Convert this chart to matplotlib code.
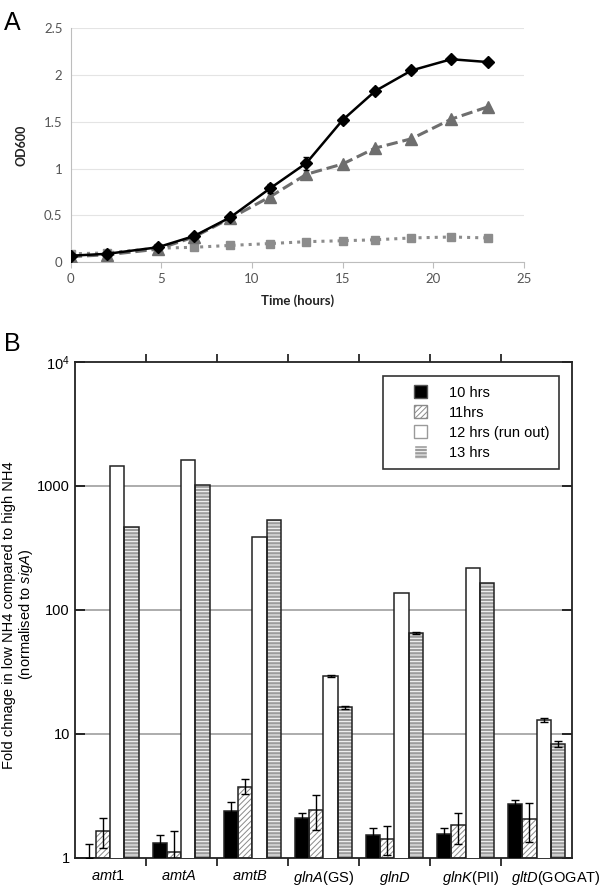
import numpy as np
import matplotlib
matplotlib.use("Agg")
import matplotlib.pyplot as plt
from matplotlib.patches import Patch, Rectangle
from matplotlib.legend_handler import HandlerPatch
from matplotlib.ticker import FixedLocator, FixedFormatter
from matplotlib.transforms import blended_transform_factory

plt.rcParams["font.family"] = ["Liberation Sans", "DejaVu Sans"]
plt.rcParams["mathtext.fontset"] = "custom"
plt.rcParams["mathtext.rm"] = "Liberation Sans"
plt.rcParams["mathtext.it"] = "Liberation Sans:italic"
plt.rcParams["hatch.linewidth"] = 0.7

# ---- panel A data (growth curves) ----
time_h = [0, 2, 4.8, 6.8, 8.8, 11, 13, 15, 16.8, 18.8, 21, 23]
od_high = [0.07, 0.09, 0.16, 0.28, 0.48, 0.79, 1.06, 1.52, 1.83, 2.05, 2.17, 2.14]
od_high_err = [0.01, 0.01, 0.01, 0.02, 0.02, 0.05, 0.07, 0.03, 0.03, 0.03, 0.02, 0.01]
od_mid = [0.06, 0.08, 0.14, 0.27, 0.47, 0.70, 0.94, 1.05, 1.22, 1.32, 1.53, 1.66]
od_low = [0.09, 0.10, 0.15, 0.16, 0.18, 0.20, 0.22, 0.23, 0.24, 0.26, 0.27, 0.26]

# ---- panel B data (fold change) ----
genes = [r"$\it{amt1}$", r"$\it{amtA}$", r"$\it{amtB}$", r"$\it{glnA}$(GS)",
         r"$\it{glnD}$", r"$\it{glnK}$(PII)", r"$\it{gltD}$(GOGAT)"]
series_names = ["10 hrs", "11hrs", "12 hrs (run out)", "13 hrs"]
fc_10h = [1.0, 1.32, 2.38, 2.10, 1.53, 1.55, 2.73]
fc_10h_lo = [np.nan, 1.15, 2.0, 1.93, 1.33, 1.38, 2.56]
fc_10h_hi = [1.30, 1.52, 2.80, 2.28, 1.75, 1.74, 2.90]
fc_11h = [1.64, 1.12, 3.74, 2.43, 1.42, 1.82, 2.04]
fc_11h_lo = [1.19, 0.8, 3.25, 1.67, 1.05, 1.29, 1.34]
fc_11h_hi = [2.08, 1.64, 4.32, 3.20, 1.80, 2.30, 2.78]
fc_12h = [1452, 1625, 388, 29.1, 136, 216, 12.9]
fc_12h_lo = [np.nan, np.nan, np.nan, 28.6, np.nan, np.nan, 12.4]
fc_12h_hi = [np.nan, np.nan, np.nan, 29.6, np.nan, np.nan, 13.4]
fc_13h = [468, 1010, 530, 16.3, 65, 166, 8.2]
fc_13h_lo = [np.nan, np.nan, np.nan, 15.8, 64.3, np.nan, 7.8]
fc_13h_hi = [np.nan, np.nan, np.nan, 16.8, 65.7, np.nan, 8.7]


def right_square(legend, orig_handle, xdescent, ydescent, width, height, fontsize):
    # small square sitting at the right end of the handle box
    side = height
    return Rectangle((width - side - xdescent, -ydescent), side, height)


def main():
    fig = plt.figure(figsize=(6.0, 8.86), dpi=100)

    # ================= Panel A =================
    axA = fig.add_axes([0.118, 0.704, 0.755, 0.264])
    axA.plot(time_h, od_low, color="#8c8c8c", linestyle=":", linewidth=2.2,
             marker="s", markersize=6, zorder=2)
    axA.plot(time_h, od_mid, color="#6e6e6e", linestyle="--", linewidth=2.2,
             marker="^", markersize=8, zorder=3)
    axA.errorbar(time_h, od_high, yerr=od_high_err, color="black", linewidth=1.8,
                 marker="D", markersize=6, capsize=2.5, elinewidth=1, zorder=4)
    axA.set_xlim(0, 25)
    axA.set_ylim(0, 2.5)
    axA.set_xticks([0, 5, 10, 15, 20, 25])
    axA.set_yticks([0, 0.5, 1, 1.5, 2, 2.5])
    axA.set_yticklabels(["0", "0.5", "1", "1.5", "2", "2.5"])
    axA.grid(axis="y", color="#e4e4e4", linewidth=0.8)
    axA.set_axisbelow(True)
    for s in ["top", "right"]:
        axA.spines[s].set_visible(False)
    for s in ["left", "bottom"]:
        axA.spines[s].set_color("#bdbdbd")
    axA.tick_params(axis="y", length=0, labelsize=9.5, labelcolor="#555555",
                    pad=6)
    axA.tick_params(axis="x", length=4, color="#bdbdbd", labelsize=9.5,
                    labelcolor="#555555")
    for lab in axA.get_xticklabels() + axA.get_yticklabels():
        lab.set_family(["Lato", "DejaVu Sans"])
    axA.set_xlabel("Time (hours)", fontsize=9.5, fontweight="bold",
                   family=["Lato", "DejaVu Sans"], color="#222222", labelpad=7)
    axA.set_ylabel("OD600", fontsize=9, fontweight="bold",
                   family=["Lato", "DejaVu Sans"], color="#222222", labelpad=12)
    fig.text(0.006, 0.988, "A", fontsize=18, va="top", ha="left")

    # ================= Panel B =================
    axB = fig.add_axes([0.1245, 0.032, 0.829, 0.5595])
    x = np.arange(len(genes))
    w = 0.2
    edge = "#222222"

    def draw(offset, vals, lo, hi, face, hatch=None, hatch_col=None):
        vals = np.asarray(vals, dtype=float)
        if hatch:
            axB.bar(x + offset, vals, w, color=face, hatch=hatch,
                    edgecolor=hatch_col, linewidth=0, zorder=2)
            axB.bar(x + offset, vals, w, fill=False, edgecolor=edge,
                    linewidth=1.1, zorder=3)
        else:
            axB.bar(x + offset, vals, w, color=face, edgecolor=edge,
                    linewidth=1.1, zorder=3)
        lo = np.asarray(lo, dtype=float)
        hi = np.asarray(hi, dtype=float)
        ok = ~np.isnan(hi)
        lower = np.where(np.isnan(lo), vals, lo)
        yerr = [(vals - lower)[ok], (hi - vals)[ok]]
        axB.errorbar(x[ok] + offset, vals[ok], yerr=yerr, fmt="none",
                     ecolor="black", elinewidth=1.0, capsize=3, capthick=1.0,
                     zorder=4)

    draw(-0.3, fc_10h, fc_10h_lo, fc_10h_hi, "black")
    draw(-0.1, fc_11h, fc_11h_lo, fc_11h_hi, "white", "//////", "#8a8a8a")
    draw(0.1, fc_12h, fc_12h_lo, fc_12h_hi, "white")
    draw(0.3, fc_13h, fc_13h_lo, fc_13h_hi, "#9c9c9c", "-----", "white")

    axB.set_yscale("log")
    axB.set_ylim(1, 1e4)
    axB.set_xlim(-0.5, len(genes) - 0.5)
    for yv in [10, 100, 1000]:
        axB.axhline(yv, color="#a6a6a6", linewidth=1.3, zorder=1)
    axB.yaxis.set_major_locator(FixedLocator([1, 10, 100, 1000, 10000]))
    axB.yaxis.set_major_formatter(FixedFormatter(["1", "10", "100", "1000", r"$10^4$"]))
    axB.yaxis.set_minor_locator(FixedLocator([]))
    axB.tick_params(axis="y", which="major", direction="in", length=7,
                    right=True, labelsize=10.5, width=1.1)
    bounds = np.arange(0.5, len(genes) - 0.5, 1.0)
    axB.set_xticks(bounds)
    axB.set_xticklabels([])
    axB.tick_params(axis="x", which="major", direction="out", length=6,
                    top=True, width=1.1)
    # gene names under each group (last one sits a bit to the right, as drawn)
    trans = blended_transform_factory(axB.transData, axB.transAxes)
    shifts = [-0.04, -0.04, -0.04, 0.0, 0.0, 0.07, 0.27]
    for xi, name, sh in zip(x, genes, shifts):
        axB.text(xi + sh, -0.022, name, transform=trans, ha="center",
                 va="top", fontsize=10.5)
    for s in axB.spines.values():
        s.set_linewidth(1.3)
        s.set_color("#222222")
    axB.set_ylabel("Fold chnage in low NH4 compared to high NH4\n"
                   r"(normalised to $\it{sigA}$)", fontsize=10.5,
                   linespacing=1.05)
    axB.yaxis.set_label_coords(-0.08, 0.49)

    handles = [
        Patch(facecolor="black", edgecolor="#555555"),
        Patch(facecolor="white", edgecolor="#8a8a8a", hatch="//////"),
        Patch(facecolor="white", edgecolor="#9a9a9a"),
        Patch(facecolor="#9c9c9c", edgecolor="white", hatch="-----"),
    ]
    leg = axB.legend(handles, series_names, loc="upper right",
                     bbox_to_anchor=(0.974, 0.972), fontsize=10.5,
                     frameon=True, fancybox=False, edgecolor="black",
                     handlelength=2.4, handleheight=1.0, handletextpad=1.5,
                     borderpad=0.65, labelspacing=0.38, borderaxespad=0,
                     handler_map={Patch: HandlerPatch(patch_func=right_square)})
    leg.get_frame().set_linewidth(1.2)
    leg.set_zorder(6)

    fig.text(0.006, 0.625, "B", fontsize=18, va="top", ha="left")

    fig.savefig("out.png", dpi=100)
    plt.close(fig)


if __name__ == "__main__":
    main()
